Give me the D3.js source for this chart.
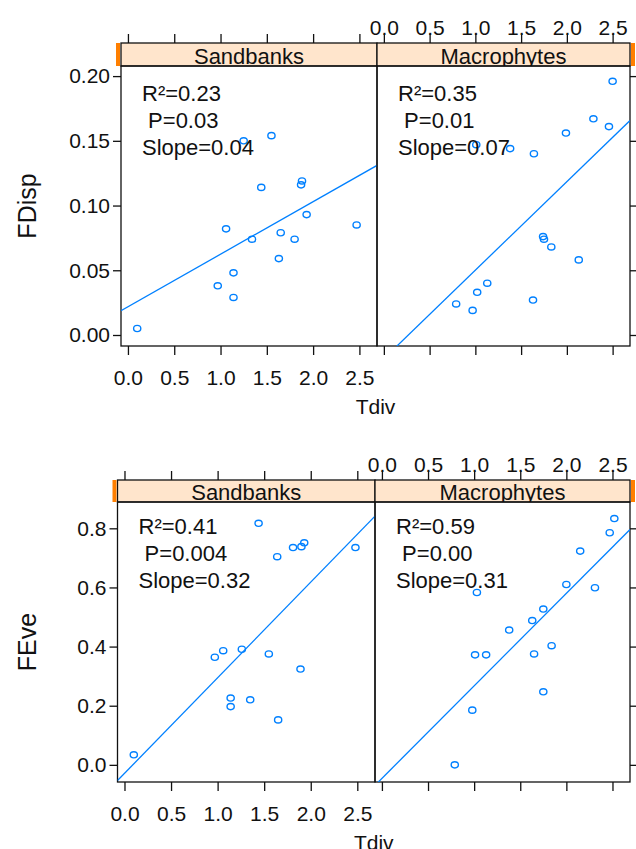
<!DOCTYPE html>
<html>
<head>
<meta charset="utf-8">
<script src="https://cdn.jsdelivr.net/npm/d3@7"></script>
<style>
  body { margin: 0; background: #fff; }
  svg { display: block; font-family: "Liberation Sans", Arial, sans-serif; }
  text { fill: #111; }
</style>
</head>
<body>
<svg width="636" height="849"></svg>
<script>
const sites = ["Sandbanks", "Macrophytes"];
const tdivTicks = [0, 0.5, 1, 1.5, 2, 2.5];
const fdispTicks = [0, 0.05, 0.10, 0.15, 0.20];
const feveTicks = [0, 0.2, 0.4, 0.6, 0.8];

// [Tdiv, value] pairs
const fdispSandbanks = [
  [0.10, 0.005], [0.97, 0.038], [1.14, 0.029], [1.14, 0.048], [1.06, 0.082],
  [1.25, 0.150], [1.34, 0.074], [1.44, 0.114], [1.55, 0.154], [1.63, 0.059],
  [1.65, 0.079], [1.80, 0.074], [1.87, 0.116], [1.88, 0.119], [1.93, 0.093],
  [2.47, 0.085]
];
const fdispMacrophytes = [
  [0.79, 0.024], [0.97, 0.019], [1.02, 0.033], [1.13, 0.040], [1.01, 0.147],
  [1.38, 0.144], [1.63, 0.027], [1.64, 0.140], [1.74, 0.076], [1.75, 0.074],
  [1.83, 0.068], [1.99, 0.156], [2.13, 0.058], [2.29, 0.167], [2.46, 0.161],
  [2.50, 0.196]
];
const feveSandbanks = [
  [0.10, 0.034], [0.97, 0.364], [1.06, 0.386], [1.14, 0.226], [1.14, 0.197],
  [1.26, 0.391], [1.35, 0.220], [1.44, 0.817], [1.55, 0.375], [1.64, 0.704],
  [1.65, 0.152], [1.81, 0.735], [1.89, 0.324], [1.90, 0.738], [1.93, 0.751],
  [2.48, 0.735]
];
const feveMacrophytes = [
  [0.79, 0.000], [0.98, 0.185], [1.01, 0.372], [1.03, 0.583], [1.13, 0.372],
  [1.38, 0.456], [1.63, 0.488], [1.65, 0.375], [1.75, 0.527], [1.75, 0.247],
  [1.84, 0.403], [2.00, 0.610], [2.15, 0.723], [2.31, 0.599], [2.47, 0.785],
  [2.52, 0.833]
];

// fitted lines (intercept, slope) as drawn
const fdispFit = [[0.0218, 0.0406], [-0.0183, 0.0684]];
const feveFit = [[-0.0289, 0.3235], [-0.0459, 0.313]];

const fdispStats = [["R²=0.23", " P=0.03", "Slope=0.04"], ["R²=0.35", " P=0.01", "Slope=0.07"]];
const feveStats = [["R²=0.41", " P=0.004", "Slope=0.32"], ["R²=0.59", " P=0.00", "Slope=0.31"]];

const blue = "#0080ff";
const svg = d3.select("svg");

const rows = [
  { ylab: "FDisp", data: [fdispSandbanks, fdispMacrophytes], fit: fdispFit, stats: fdispStats,
    yDomain: [-0.0085, 0.2078], yTicks: fdispTicks, yFmt: d3.format(".2f"),
    stripTop: 43, top: 66, bottom: 346, edges: [121, 377, 630], statTop: 35 },
  { ylab: "FEve", data: [feveSandbanks, feveMacrophytes], fit: feveFit, stats: feveStats,
    yDomain: [-0.058, 0.889], yTicks: feveTicks, yFmt: d3.format(".1f"),
    stripTop: 480, top: 502, bottom: 782, edges: [117.5, 375, 630], statTop: 32 }
];

rows.forEach((row, ri) => {
  const g = svg.append("g");
  const y = d3.scaleLinear().domain(row.yDomain).range([row.bottom, row.top]);

  sites.forEach((site, pi) => {
    const x0 = row.edges[pi], x1 = row.edges[pi + 1];
    const x = d3.scaleLinear().domain([-0.075, 2.69]).range([x0, x1]);
    const pg = g.append("g");
    const clipId = `clip-${ri}-${pi}`;
    svg.append("clipPath").attr("id", clipId)
      .append("rect").attr("x", x0).attr("y", row.top).attr("width", x1 - x0).attr("height", row.bottom - row.top);
    const stripClip = `sclip-${ri}-${pi}`;
    svg.append("clipPath").attr("id", stripClip)
      .append("rect").attr("x", x0).attr("y", row.stripTop).attr("width", x1 - x0).attr("height", row.top - row.stripTop);

    // strip
    pg.append("rect")
      .attr("x", x0).attr("y", row.stripTop)
      .attr("width", x1 - x0).attr("height", row.top - row.stripTop)
      .attr("fill", "#ffe5cc").attr("stroke", "#111").attr("stroke-width", 1.3);
    pg.append("rect")
      .attr("x", pi === 0 ? x0 - 5 : x1 + 1).attr("y", row.stripTop)
      .attr("width", 4).attr("height", row.top - row.stripTop)
      .attr("fill", "#ff7f00");
    pg.append("text")
      .attr("clip-path", `url(#${stripClip})`)
      .attr("x", (x0 + x1) / 2).attr("y", row.top - 2)
      .attr("text-anchor", "middle").attr("font-size", 22)
      .text(site);

    // top ticks (labels on right panel), bottom ticks (labels on left panel)
    const topAxis = d3.axisTop(x).tickValues(tdivTicks).tickSize(9).tickPadding(-1)
      .tickFormat(pi === 1 ? d3.format(".1f") : "");
    pg.append("g").attr("transform", `translate(0,${row.stripTop})`).call(topAxis);
    const bottomAxis = d3.axisBottom(x).tickValues(tdivTicks).tickSize(9).tickPadding(15)
      .tickFormat(pi === 0 ? d3.format(".1f") : "");
    pg.append("g").attr("transform", `translate(0,${row.bottom})`).call(bottomAxis);

    if (pi === 0) {
      pg.append("g").attr("transform", `translate(${x0},0)`)
        .call(d3.axisLeft(y).tickValues(row.yTicks).tickSize(8).tickPadding(3).tickFormat(row.yFmt));
    } else {
      pg.append("g").attr("transform", `translate(${x1},0)`)
        .call(d3.axisRight(y).tickValues(row.yTicks).tickSize(8).tickFormat(""));
    }

    // panel box
    pg.append("rect")
      .attr("x", x0).attr("y", row.top)
      .attr("width", x1 - x0).attr("height", row.bottom - row.top)
      .attr("fill", "none").attr("stroke", "#111").attr("stroke-width", 1.3);

    // fitted line
    const [b0, b1] = row.fit[pi];
    const dom = x.domain();
    pg.append("line")
      .attr("clip-path", `url(#${clipId})`)
      .attr("x1", x(dom[0])).attr("y1", y(b0 + b1 * dom[0]))
      .attr("x2", x(dom[1])).attr("y2", y(b0 + b1 * dom[1]))
      .attr("stroke", blue).attr("stroke-width", 1.3);

    // points
    pg.append("g").selectAll("ellipse")
      .data(row.data[pi])
      .enter().append("ellipse")
      .attr("cx", d => x(d[0])).attr("cy", d => y(d[1]))
      .attr("rx", 3.6).attr("ry", 3.1)
      .attr("fill", "none").attr("stroke", blue).attr("stroke-width", 1.4);

    // stats text
    pg.append("g").selectAll("text")
      .data(row.stats[pi])
      .enter().append("text")
      .attr("x", x0 + 21).attr("y", (d, i) => row.top + row.statTop + i * 27)
      .attr("font-size", 22).style("white-space", "pre")
      .text(d => d);
  });

  // axis styling
  g.selectAll(".domain").remove();
  g.selectAll(".tick line").attr("stroke", "#111").attr("stroke-width", 1.3);
  g.selectAll(".tick text").attr("font-size", 21).attr("fill", "#111")
    .attr("font-family", "Liberation Sans, Arial, sans-serif");

  // axis titles
  g.append("text")
    .attr("x", (row.edges[0] + row.edges[2]) / 2).attr("y", row.bottom + 68)
    .attr("text-anchor", "middle").attr("font-size", 21)
    .text("Tdiv");
  g.append("text")
    .attr("transform", `translate(36,${(row.top + row.bottom) / 2}) rotate(-90)`)
    .attr("text-anchor", "middle").attr("font-size", 25)
    .text(row.ylab);
});
</script>
</body>
</html>
